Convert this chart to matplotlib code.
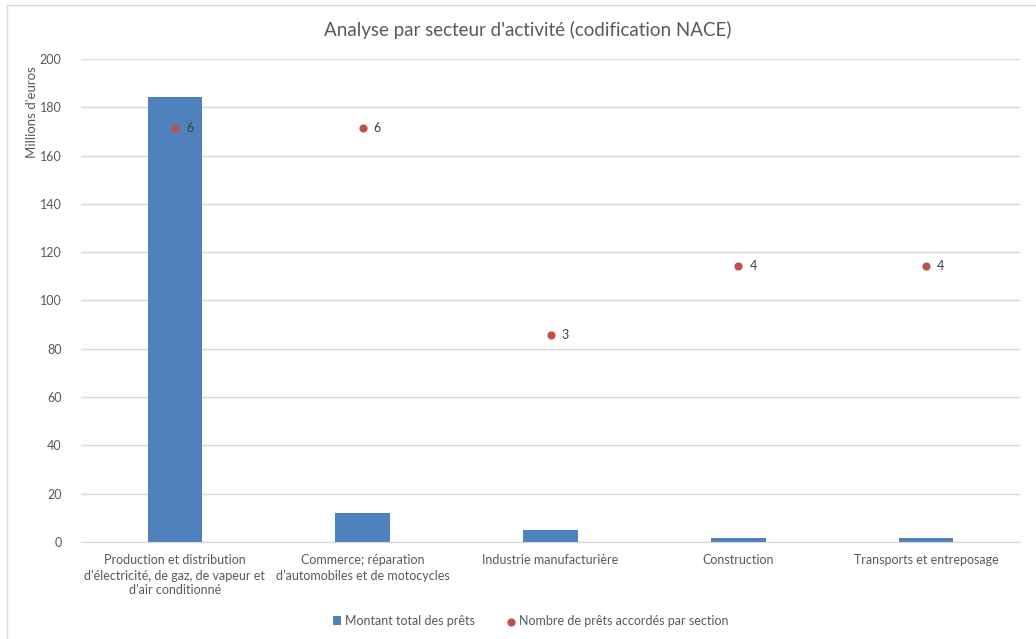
import matplotlib
matplotlib.use("Agg")
import matplotlib.pyplot as plt
from matplotlib.patches import Rectangle

plt.rcParams['font.family'] = ['Lato', 'DejaVu Sans']

# data
sectors = [
    "Production et distribution\nd\u2019électricité, de gaz, de vapeur et\nd\u2019air conditionné",
    "Commerce; réparation\nd\u2019automobiles et de motocycles",
    "Industrie manufacturière",
    "Construction",
    "Transports et entreposage",
]
montant = [184.3, 12.0, 5.0, 1.5, 1.5]   # millions d'euros
nb_prets = [6, 6, 3, 4, 4]

blue = "#4f81bd"
red = "#c0504d"
grey_txt = "#595959"
grid_c = "#d9d9d9"

fig = plt.figure(figsize=(10.36, 6.39), dpi=100)
ax = fig.add_axes([0.0782, 0.1518, 0.9064, 0.7559])
ax2 = ax.twinx()

x = list(range(len(sectors)))
ax.bar(x, montant, width=0.29, color=blue, zorder=2, label="Montant total des prêts")
ax.set_xlim(-0.5, len(sectors) - 0.5)
ax.set_ylim(0, 200)
ax.set_yticks(range(0, 201, 20))
ax.grid(axis='y', color=grid_c, linewidth=1, zorder=0)
ax.set_axisbelow(True)

ax2.scatter(x, nb_prets, s=24, color=red, zorder=3, label="Nombre de prêts accordés par section")
for xi, v in zip(x, nb_prets):
    ax2.annotate(str(v), (xi, v), xytext=(8, 0), textcoords='offset points',
                 va='center', ha='left', fontsize=9, color="#404040")
ax2.set_ylim(0, 7)
ax2.set_yticks(range(0, 8))

for a in (ax, ax2):
    for s in a.spines.values():
        s.set_visible(False)
    a.tick_params(length=0, colors=grey_txt, labelsize=9)
ax.spines['bottom'].set_visible(True)
ax.spines['bottom'].set_color(grid_c)
ax.tick_params(axis='y', pad=14)
ax2.tick_params(axis='y', pad=11)

ax.set_xticks(x)
ax.set_xticklabels(sectors, fontsize=9, color=grey_txt, linespacing=1.25)
ax.tick_params(axis='x', pad=9)

ax.set_ylabel("Millions d'euros", fontsize=9.5, color=grey_txt)
ax.yaxis.set_label_coords(-0.046, 0.89)

fig.text(0.509, 0.953, "Analyse par secteur d'activité (codification NACE)",
         ha='center', va='center', fontsize=13.5, color=grey_txt)

h1, l1 = ax.get_legend_handles_labels()
h2, l2 = ax2.get_legend_handles_labels()
leg = fig.legend(h1 + h2, l1 + l2, loc='center', bbox_to_anchor=(0.512, 0.028),
                 ncol=2, frameon=False, fontsize=9, handlelength=0.7, handleheight=0.7,
                 handletextpad=0.3, columnspacing=2.5)
for t in leg.get_texts():
    t.set_color(grey_txt)

# outer chart border
fig.patches.append(Rectangle((7 / 1036, -0.05), 1.1, 1 - 5 / 639 + 0.05,
                             transform=fig.transFigure, fill=False,
                             edgecolor=grid_c, linewidth=1))

fig.savefig("out.png", dpi=100)
